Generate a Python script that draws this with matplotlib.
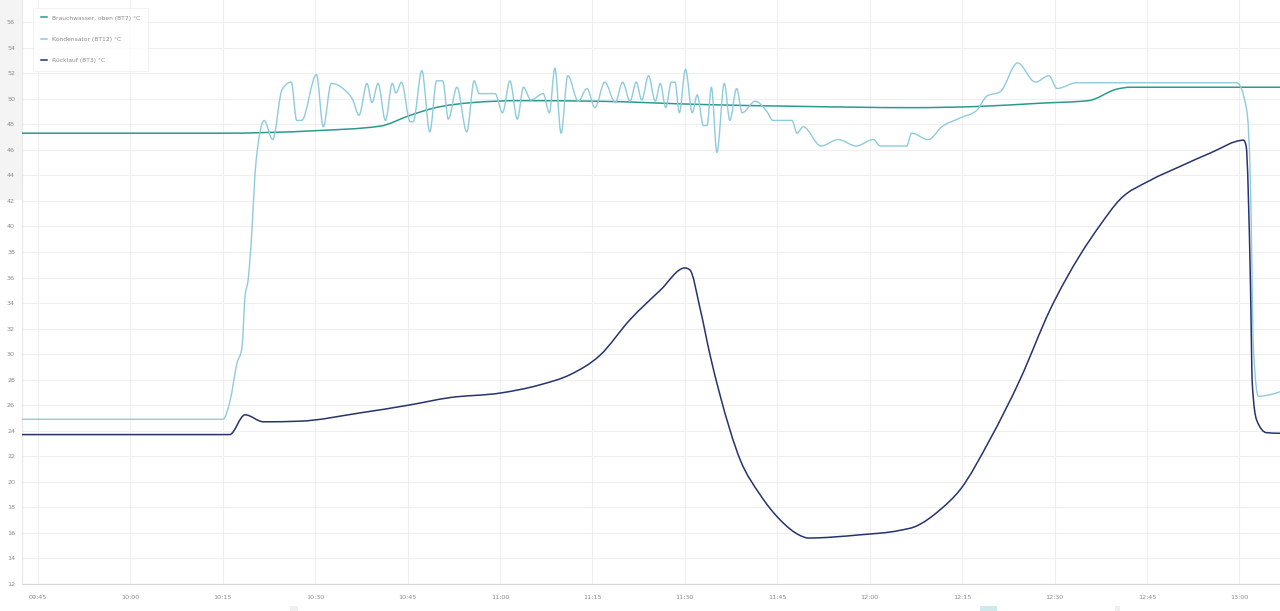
import numpy as np
import matplotlib
matplotlib.use("Agg")
import matplotlib.pyplot as plt
from matplotlib.path import Path
from matplotlib.patches import PathPatch, Rectangle
from matplotlib.lines import Line2D

# ---- data: minutes after 09:45 and temperature in °C ----
bt7_t = [-2.6, 29.5, 45.2, 55.5, 60.4, 64.1, 70.6, 78.2, 91.2, 107.5, 123.7, 141.6,
         152.9, 162.7, 170.5, 175.1, 177.3, 201.6]
bt7_v = [47.3, 47.3, 47.5, 47.85, 48.7, 49.25, 49.7, 49.85, 49.8, 49.55, 49.4, 49.3,
         49.4, 49.65, 49.85, 50.75, 50.9, 50.9]

bt12_t = [-2.6, 30.0, 31.2, 32.3, 33.1, 33.6, 34.1, 34.7, 35.2, 36.0, 36.7, 38.1, 39.6,
          41.1, 42.0, 42.8, 45.2, 46.3, 47.6, 49.5, 51.1, 52.1, 53.4, 54.2, 55.2, 56.4,
          57.5, 58.1, 59.0, 60.4, 60.9, 62.3, 63.6, 64.7, 65.7, 66.6, 68.0, 69.6, 70.8,
          71.6, 74.2, 75.4, 76.6, 77.8, 78.8, 80.0, 82.0, 83.0, 83.9, 84.9, 86.0, 87.7,
          89.1, 90.4, 92.0, 93.7, 94.9, 96.1, 97.1, 98.0, 99.1, 100.2, 101.0, 101.9,
          102.8, 103.4, 104.1, 105.1, 106.2, 107.0, 108.0, 108.6, 109.3, 110.2, 111.4,
          112.3, 113.4, 114.3, 116.4, 118.3, 119.3, 122.4, 123.2, 124.2, 127.1, 129.9,
          132.8, 135.6, 136.7, 141.0, 141.8, 144.5, 146.7, 149.7, 152.4, 154.0, 156.2,
          159.0, 161.9, 164.1, 165.4, 168.6, 194.6, 196.2, 196.8, 197.3, 198.1, 201.6]
bt12_v = [24.9, 24.9, 26.4, 29.3, 30.5, 34.5, 35.8, 39.5, 43.9, 47.3, 48.3, 46.8, 50.7,
          51.3, 48.3, 48.3, 51.9, 47.8, 51.2, 50.8, 49.9, 48.7, 51.2, 49.7, 51.2, 48.3,
          51.2, 50.45, 51.3, 48.2, 48.2, 52.2, 47.4, 51.4, 51.4, 48.4, 50.9, 47.4, 51.4,
          50.4, 50.4, 48.9, 51.4, 48.4, 50.9, 49.9, 50.4, 48.9, 52.4, 47.3, 51.8, 49.8,
          50.8, 49.3, 51.3, 49.7, 51.3, 49.8, 51.3, 49.9, 51.8, 49.8, 51.2, 49.3,
          51.3, 51.3, 48.9, 52.3, 48.9, 50.3, 47.9, 47.9, 50.9, 45.8, 51.2,
          48.3, 50.8, 48.9, 49.8, 49.0, 48.3, 48.3, 47.3, 47.8, 46.3, 46.8,
          46.3, 46.8, 46.3, 46.3, 47.3, 46.8, 47.8, 48.5, 49.1, 50.2, 50.55,
          52.8, 51.3, 51.8, 50.8, 51.25, 51.25, 49.1, 43.4, 30.3, 26.7, 27.05]

bt3_t = [-2.6, 31.1, 33.6, 36.6, 42.5, 52.3, 60.1, 66.9, 75.0, 81.5, 86.4, 91.2, 96.1,
         101.0, 105.0, 105.8, 107.5, 109.1, 110.7, 114.0, 117.2, 120.5, 123.7, 125.0,
         133.4, 139.9, 142.4, 146.4, 149.7, 154.5, 159.4, 164.3, 169.2, 172.4, 175.6,
         180.5, 185.4, 190.3, 195.7, 196.1, 196.8, 197.1, 197.8, 199.4, 201.6]
bt3_v = [23.7, 23.7, 25.25, 24.7, 24.75, 25.4, 26.0, 26.6, 26.95, 27.6, 28.4, 29.9, 32.7,
         35.0, 36.75, 36.6, 33.5, 29.9, 26.8, 21.7, 19.0, 17.0, 15.8, 15.6,
         15.85, 16.2, 16.5, 17.8, 19.4, 23.3, 28.0, 33.5, 37.8, 40.1, 42.1,
         43.6, 44.7, 45.75, 46.75, 46.3, 35.6, 27.7, 24.85, 23.85, 23.8]

tick_minutes = [0, 15, 30, 45, 60, 75, 90, 105, 120, 135, 150, 165, 180, 195]
tick_labels = ["09:45", "10:00", "10:15", "10:30", "10:45", "11:00", "11:15", "11:30",
               "11:45", "12:00", "12:15", "12:30", "12:45", "13:00"]
y_ticks = list(range(12, 57, 2))

series_names = ["Brauchwasser, oben (BT7) °C", "Kondensator (BT12) °C", "Rücklauf (BT3) °C"]
series_colors = ["#2b9a8d", "#8dcbdd", "#26336e"]


def monotone_path(x, y):
    """Monotone-X cubic Bezier path (like d3.curveMonotoneX)."""
    x = np.asarray(x, float)
    y = np.asarray(y, float)
    n = len(x)
    h = np.diff(x)
    s = np.diff(y) / h
    t = np.zeros(n)
    for i in range(1, n - 1):
        s0, s1 = s[i - 1], s[i]
        p = (s0 * h[i] + s1 * h[i - 1]) / (h[i - 1] + h[i])
        t[i] = (np.sign(s0) + np.sign(s1)) * min(abs(s0), abs(s1), 0.5 * abs(p))
    t[0] = (3 * s[0] - t[1]) / 2
    t[-1] = (3 * s[-1] - t[-2]) / 2
    verts = [(x[0], y[0])]
    codes = [Path.MOVETO]
    for i in range(n - 1):
        dx = h[i] / 3
        verts += [(x[i] + dx, y[i] + dx * t[i]), (x[i + 1] - dx, y[i + 1] - dx * t[i + 1]),
                  (x[i + 1], y[i + 1])]
        codes += [Path.CURVE4] * 3
    return Path(verts, codes)


fig = plt.figure(figsize=(12.8, 6.11), dpi=100)
fig.patch.set_facecolor("white")
# light grey strip at left margin (as in screenshot)
fig.patches.append(Rectangle((0, 1 - 200 / 611), 22 / 1280, 200 / 611, transform=fig.transFigure,
                             facecolor="#f4f4f4", edgecolor="none", zorder=0))

ax = fig.add_axes([22 / 1280, 27 / 611, 1 - 22 / 1280, 1 - 27 / 611])
ax.set_zorder(2)
ax.set_xlim(-2.6, 201.6)
ax.set_ylim(12, 57.73)

for xs, ys, c, lw in [(bt7_t, bt7_v, series_colors[0], 1.1),
                      (bt12_t, bt12_v, series_colors[1], 1.0),
                      (bt3_t, bt3_v, series_colors[2], 1.1)]:
    ax.add_patch(PathPatch(monotone_path(xs, ys), facecolor="none", edgecolor=c, lw=lw,
                           zorder=3, capstyle="round", joinstyle="round"))

ax.set_xticks(tick_minutes)
ax.set_xticklabels(tick_labels)
ax.set_yticks(y_ticks)
ax.tick_params(axis="both", length=0, labelsize=4.6, labelcolor="#8a8a8a")
ax.tick_params(axis="x", pad=8)
ax.tick_params(axis="y", pad=5)
ax.grid(True, color="#efefef", lw=0.8, zorder=0)
for side in ["top", "right"]:
    ax.spines[side].set_visible(False)
ax.spines["left"].set_color("#e6e6e6")
ax.spines["left"].set_linewidth(0.8)
ax.spines["bottom"].set_color("#d6d6d6")
ax.spines["bottom"].set_linewidth(0.8)

handles = [Line2D([], [], color=c, lw=1.1) for c in series_colors]
leg = ax.legend(handles, series_names, loc="upper left", bbox_to_anchor=(0.0087, 0.987),
                fontsize=4.3, handlelength=1.0, handletextpad=0.9, labelspacing=2.7,
                borderpad=1.3, frameon=True, fancybox=False, borderaxespad=0)
leg.get_frame().set_edgecolor("#ececec")
leg.get_frame().set_linewidth(0.6)
for txt in leg.get_texts():
    txt.set_color("#8a8a8a")

# small scrollbar marks at bottom edge
for x0, w, col in [(290, 8, "#efefef"), (980, 17, "#cfeaea"), (1115, 5, "#efefef")]:
    fig.patches.append(Rectangle((x0 / 1280, 0), w / 1280, 5 / 611, transform=fig.transFigure,
                                 facecolor=col, edgecolor="none"))

fig.savefig("out.png", dpi=100)
